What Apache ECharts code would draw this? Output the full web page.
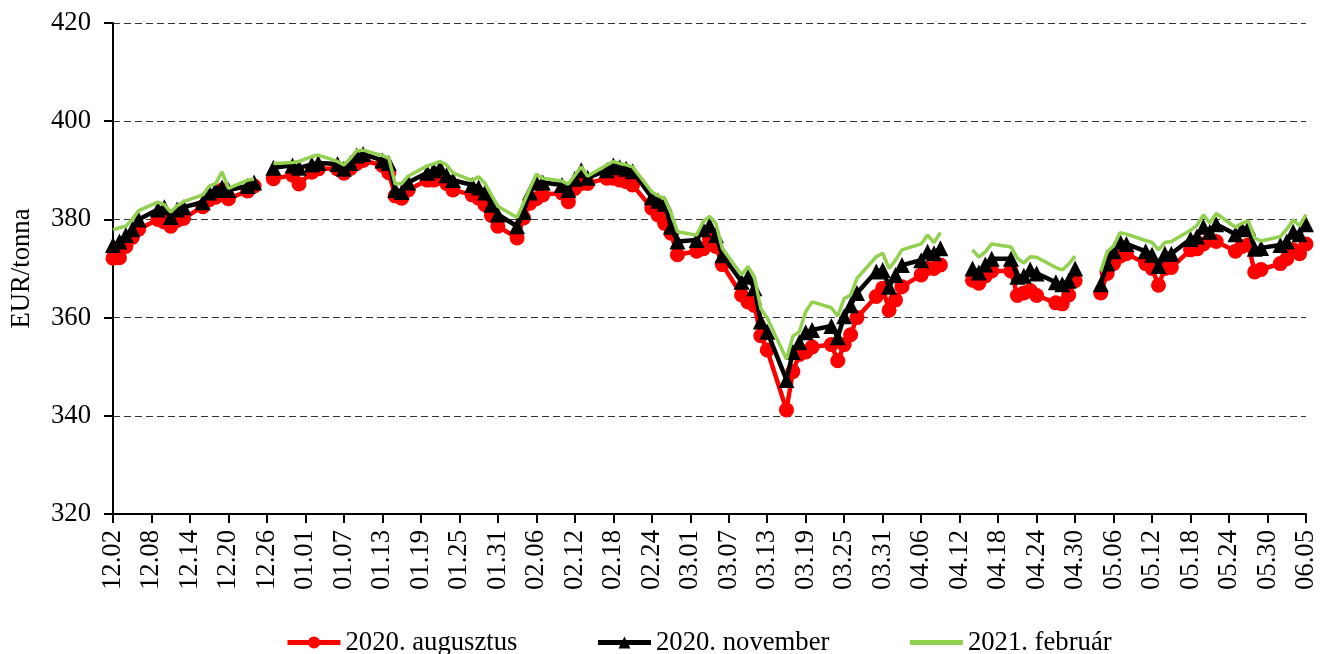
<!DOCTYPE html>
<html>
<head>
<meta charset="utf-8">
<title>EUR/tonna</title>
<script src="https://cdn.jsdelivr.net/npm/echarts/dist/echarts.min.js"></script>
<style>
  html, body { margin: 0; padding: 0; background: #fff; }
  #chart { width: 1320px; height: 654px; }
</style>
</head>
<body>
<div id="chart"></div>
<script>
// calendar axis runs from 2019-12-02 to 2020-06-05, one category per day
const firstDay = [2019, 11, 2];
const dayCount = 187;

// trading days shown (null values = market closed, line breaks there)
const tradeDays = [
  '12.02','12.03','12.04','12.05','12.06','12.09','12.10','12.11','12.12','12.13',
  '12.16','12.17','12.18','12.19','12.20','12.23','12.24','12.25','12.26','12.27',
  '12.30','12.31',
  '01.02','01.03','01.06','01.07','01.08','01.09','01.10','01.13','01.14','01.15',
  '01.16','01.17','01.20','01.21','01.22','01.23','01.24','01.27','01.28','01.29',
  '01.30','01.31',
  '02.03','02.04','02.05','02.06','02.07','02.10','02.11','02.12','02.13','02.14',
  '02.17','02.18','02.19','02.20','02.21','02.24','02.25','02.26','02.27','02.28',
  '03.02','03.03','03.04','03.05','03.06','03.09','03.10','03.11','03.12','03.13',
  '03.16','03.17','03.18','03.19','03.20','03.23','03.24','03.25','03.26','03.27',
  '03.30','03.31',
  '04.01','04.02','04.03','04.06','04.07','04.08','04.09','04.10','04.13','04.14',
  '04.15','04.16','04.17','04.20','04.21','04.22','04.23','04.24','04.27','04.28',
  '04.29','04.30','05.01',
  '05.04','05.05','05.06','05.07','05.08','05.11','05.12','05.13','05.14','05.15',
  '05.18','05.19','05.20','05.21','05.22','05.25','05.26','05.27','05.28','05.29',
  '06.01','06.02','06.03','06.04','06.05'
];

const aug2020 = [
  372.1,372.2,374.5,376.3,378.0,380.0,379.5,378.6,379.8,380.2,
  382.6,384.0,384.5,386.0,384.2,385.8,386.8,null,null,388.3,
  389.0,387.2,
  389.6,390.3,390.3,389.4,390.4,391.4,392.0,391.0,389.5,384.8,
  384.3,386.0,388.0,388.0,388.4,387.3,386.0,385.0,384.3,383.0,
  380.8,378.6,
  376.2,380.3,383.3,384.2,385.0,385.4,383.6,386.3,387.3,387.3,
  388.4,388.4,388.0,387.7,387.0,382.3,380.9,379.2,377.2,372.8,
  373.5,374.0,376.0,374.5,370.8,364.6,363.2,362.5,356.3,353.4,
  341.2,349.0,352.5,353.0,354.0,354.5,351.2,354.5,356.5,360.0,
  364.3,366.0,
  361.5,363.6,366.3,368.7,370.0,370.0,370.7,null,null,367.6,
  367.0,368.5,369.5,369.5,364.5,365.0,365.5,364.5,363.0,362.8,
  364.6,367.5,null,
  365.0,369.0,371.0,372.5,373.0,371.0,370.0,366.6,370.0,370.2,
  373.8,374.0,375.0,375.8,375.5,373.5,374.5,374.8,369.3,369.8,
  371.0,372.0,373.8,373.0,375.0
];

const nov2020 = [
  374.8,375.5,376.8,378.0,380.0,382.0,382.5,380.5,382.0,382.5,
  383.5,385.5,386.0,386.5,386.0,386.8,387.5,null,null,390.5,
  391.0,390.5,
  391.2,391.5,391.3,390.3,391.5,393.0,393.3,392.0,391.5,386.0,
  385.6,387.5,389.5,390.0,390.5,389.0,388.0,387.0,386.5,385.5,
  383.0,381.0,
  378.6,381.5,385.5,387.5,387.5,387.0,386.0,388.3,390.0,388.5,
  390.0,391.0,390.6,390.3,389.8,384.5,383.8,383.2,378.5,375.5,
  375.8,378.0,378.8,376.8,372.7,367.3,368.3,366.0,359.2,357.1,
  347.3,353.0,355.0,357.0,357.5,358.3,356.0,360.3,362.5,365.0,
  369.4,369.7,
  366.3,368.7,370.7,371.7,373.4,373.1,374.1,null,null,370.0,
  369.2,370.8,372.0,372.0,368.3,368.5,369.8,369.0,367.2,366.8,
  367.5,370.0,null,
  366.8,371.0,373.5,375.5,375.0,373.5,372.8,370.5,373.0,373.0,
  376.0,376.5,378.5,377.5,379.0,377.0,378.0,378.3,374.0,374.2,
  374.8,375.5,377.5,377.0,379.0
];

const feb2021 = [
  377.9,378.3,378.6,380.0,381.8,383.5,383.0,381.5,382.8,383.6,
  385.0,386.8,387.3,389.7,386.3,388.0,388.2,null,null,391.4,
  391.6,391.8,
  392.8,393.1,391.8,391.1,392.4,394.0,394.1,393.0,392.5,387.2,
  387.3,388.8,390.9,391.3,391.8,391.1,389.5,387.9,388.7,387.3,
  385.0,382.7,
  380.4,383.3,386.3,389.2,388.4,387.8,387.2,389.0,390.7,388.8,
  391.1,391.8,391.4,391.1,390.7,385.6,384.8,384.3,381.3,377.5,
  376.8,379.5,380.6,379.2,374.1,368.7,370.4,368.3,361.8,359.9,
  351.5,356.2,357.1,361.2,363.2,362.0,360.3,363.9,364.6,368.0,
  372.4,373.1,
  370.0,371.7,373.8,375.0,376.8,375.3,377.3,null,null,373.8,
  372.3,373.4,375.0,374.4,372.1,371.1,372.4,372.3,370.2,369.7,
  370.9,372.5,null,
  369.4,373.4,374.6,377.3,377.0,375.7,375.3,373.8,375.3,375.5,
  377.8,378.8,380.9,379.3,381.2,378.4,379.2,379.7,376.2,375.6,
  376.5,378.0,379.9,378.7,381.0
];

const seriesNames = ['2020. augusztus', '2020. november', '2021. február'];
const yTicks = { min: 320, max: 420, step: 20 };

const pad = n => (n < 10 ? '0' : '') + n;
const days = [];
const t0 = Date.UTC(firstDay[0], firstDay[1], firstDay[2]);
for (let i = 0; i < dayCount; i++) {
  const dt = new Date(t0 + i * 86400000);
  days.push(pad(dt.getUTCMonth() + 1) + '.' + pad(dt.getUTCDate()));
}

const toPoints = vals => tradeDays.map((d, i) => [d, vals[i] == null ? '-' : vals[i]]);

const serif = 'Liberation Serif';
const fs = 26.7;

const chart = echarts.init(document.getElementById('chart'));
chart.setOption({
  animation: false,
  backgroundColor: '#ffffff',
  grid: { left: 112, right: 14, top: 23, bottom: 140, containLabel: false },
  legend: {
    left: 280,
    top: 624,
    itemWidth: 53,
    itemHeight: 15,
    itemGap: 78,
    lineStyle: { width: 5 },
    textStyle: { fontFamily: serif, fontSize: fs, color: '#000' },
    data: [
      { name: seriesNames[0] },
      { name: seriesNames[1] },
      { name: seriesNames[2], itemStyle: { opacity: 0 } }
    ]
  },
  xAxis: {
    type: 'category',
    data: days,
    boundaryGap: false,
    axisLine: { lineStyle: { color: '#000', width: 2 } },
    axisTick: { show: true, interval: 5, length: 9, lineStyle: { color: '#000', width: 2 } },
    axisLabel: {
      interval: 5,
      rotate: 90,
      margin: 16,
      fontFamily: serif,
      fontSize: fs,
      color: '#000'
    },
    splitLine: { show: false }
  },
  yAxis: {
    type: 'value',
    min: yTicks.min,
    max: yTicks.max,
    interval: yTicks.step,
    name: 'EUR/tonna',
    nameLocation: 'middle',
    nameGap: 78,
    nameTextStyle: { fontFamily: serif, fontSize: fs, color: '#000' },
    axisLine: { show: true, lineStyle: { color: '#000', width: 2 } },
    axisTick: { show: true, length: 9, lineStyle: { color: '#000', width: 2 } },
    axisLabel: { margin: 22, fontFamily: serif, fontSize: fs, color: '#000' },
    splitLine: { show: true, lineStyle: { color: '#333', width: 1, type: [7, 4] } }
  },
  series: [
    {
      name: seriesNames[0],
      type: 'line',
      data: toPoints(aug2020),
      symbol: 'circle',
      symbolSize: 15,
      showAllSymbol: true,
      itemStyle: { color: '#ff0000' },
      lineStyle: { color: '#ff0000', width: 4.5 },
      z: 2
    },
    {
      name: seriesNames[1],
      type: 'line',
      data: toPoints(nov2020),
      symbol: 'triangle',
      symbolSize: 16,
      showAllSymbol: true,
      itemStyle: { color: '#000000' },
      lineStyle: { color: '#000000', width: 4.5 },
      z: 3
    },
    {
      name: seriesNames[2],
      type: 'line',
      data: toPoints(feb2021),
      showSymbol: false,
      itemStyle: { color: '#92d050' },
      lineStyle: { color: '#92d050', width: 3.5 },
      z: 4
    }
  ]
});
</script>
</body>
</html>
